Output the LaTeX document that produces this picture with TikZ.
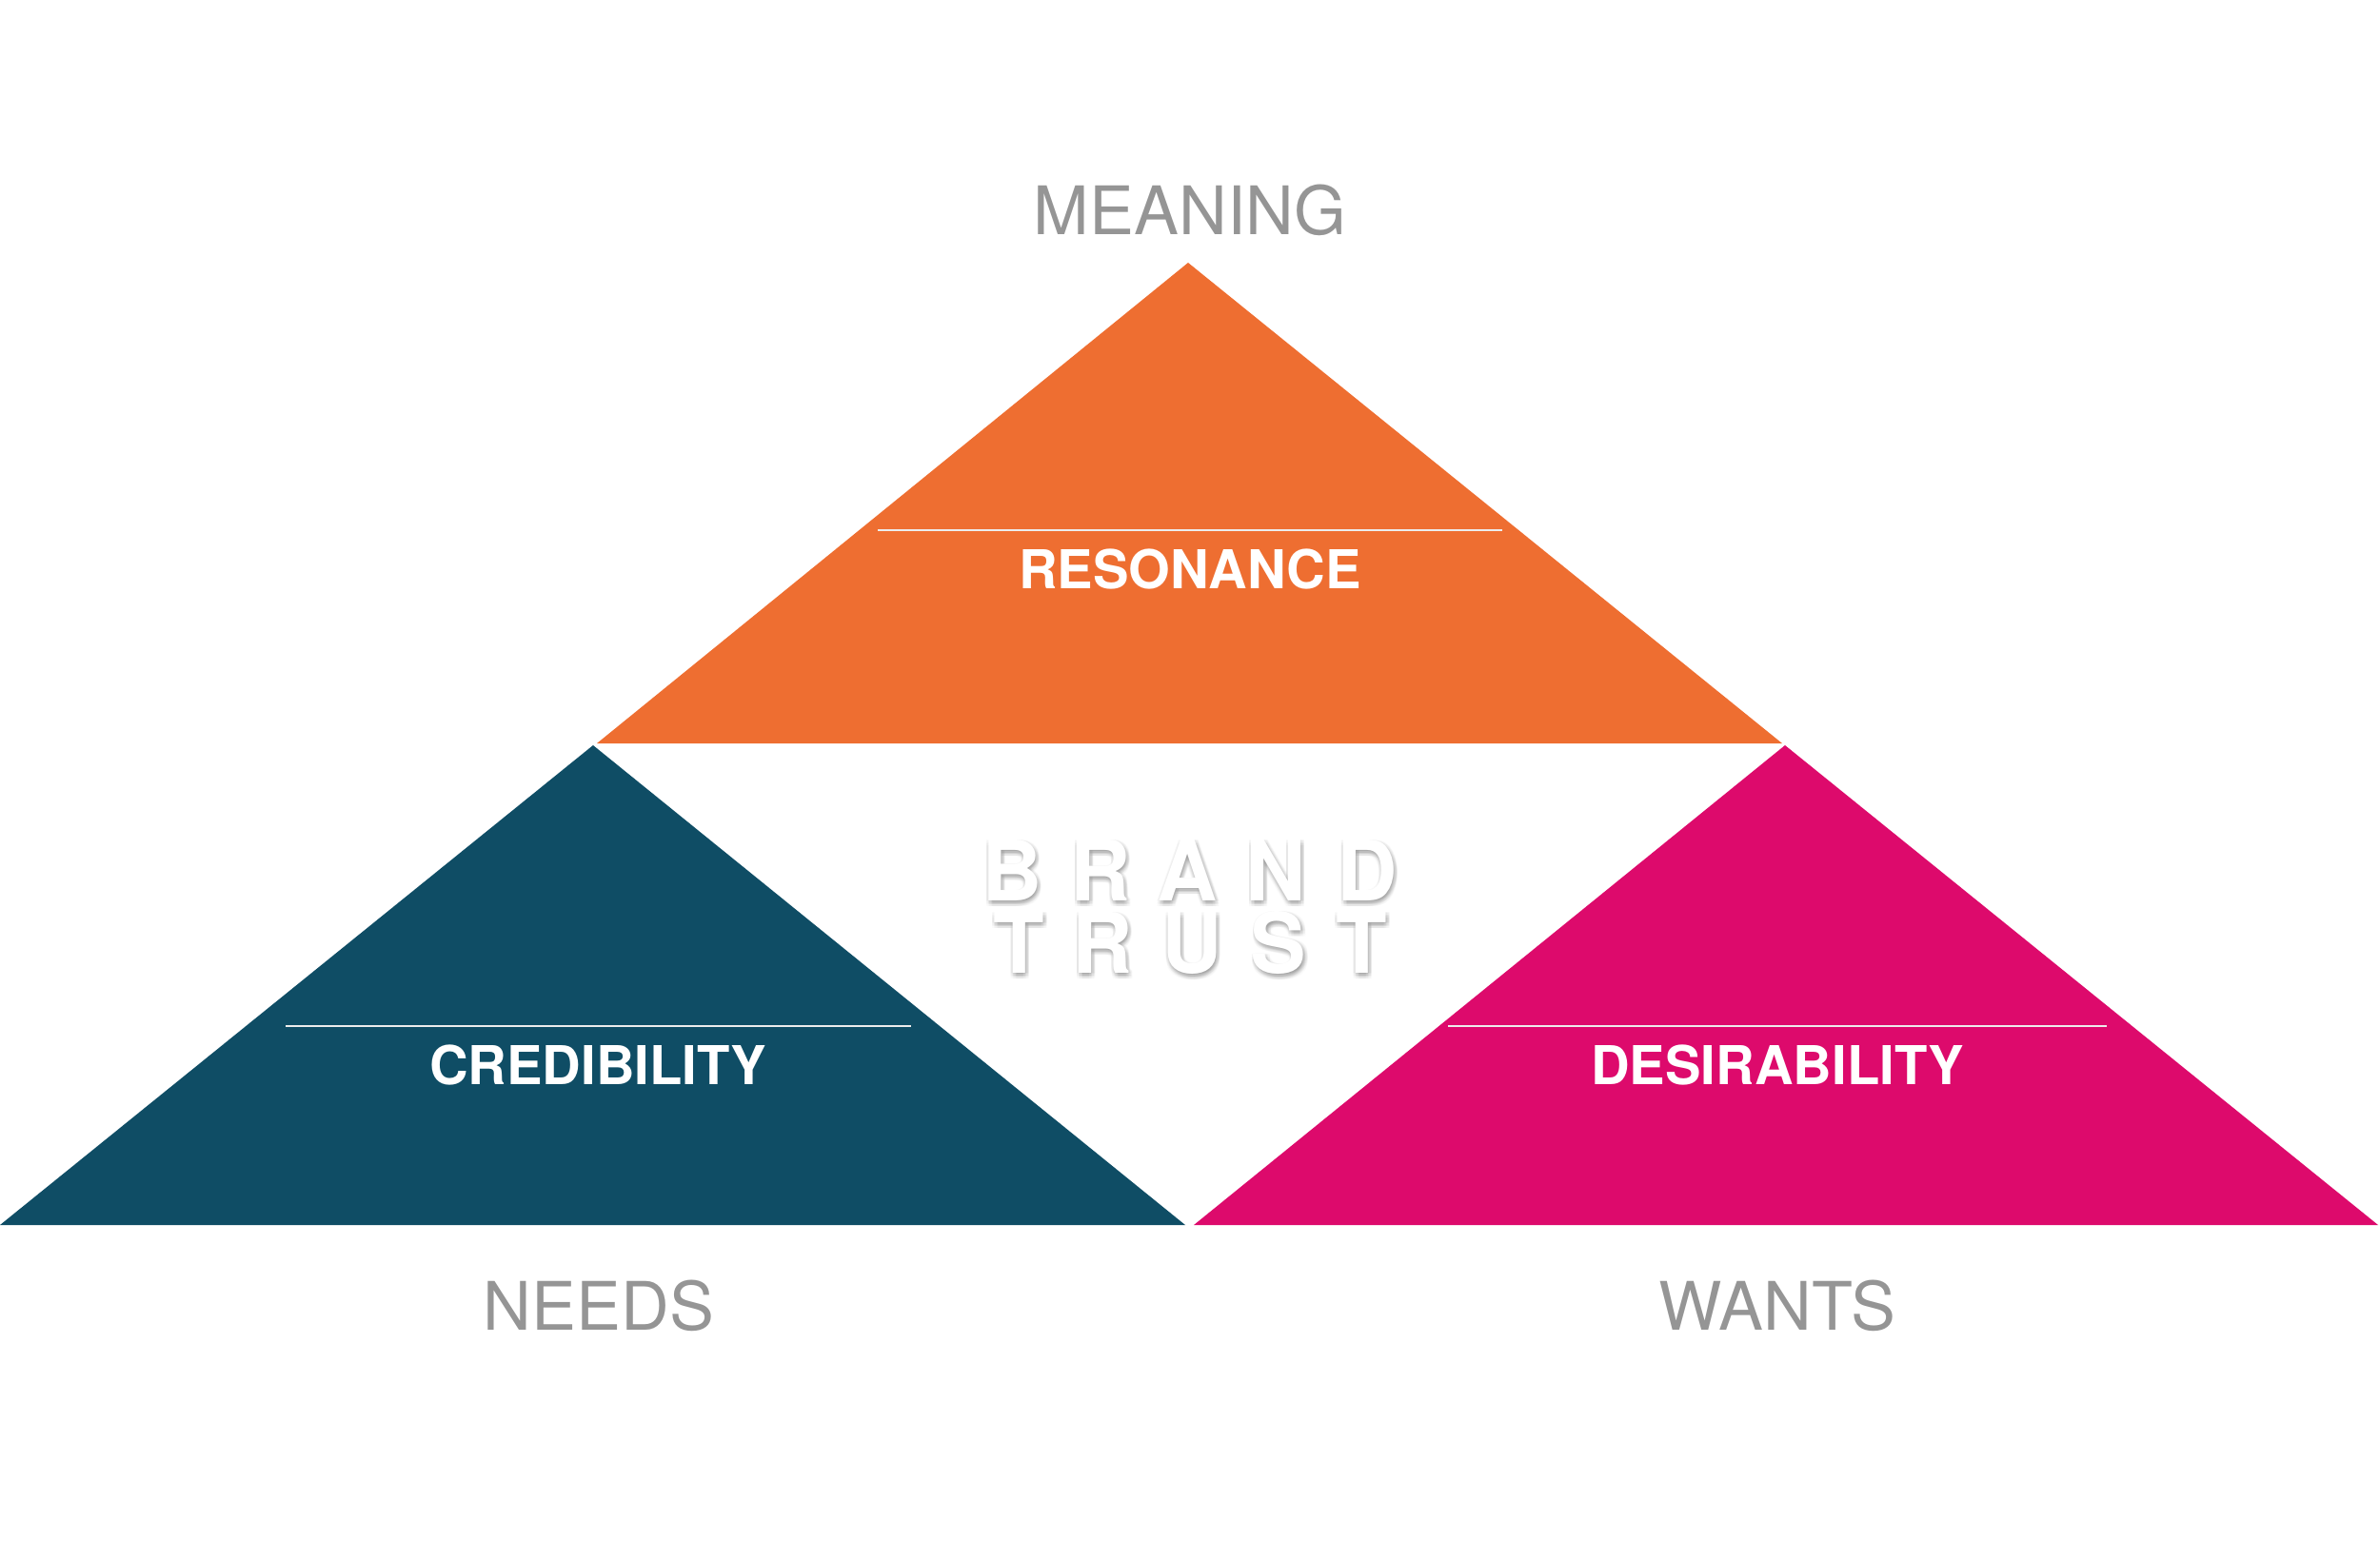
\documentclass[tikz,border=0pt]{standalone}
\usepackage{fontspec}
\setmainfont{TeX Gyre Heros}
\usepackage{xcolor}
\usetikzlibrary{positioning}

\definecolor{resorange}{HTML}{EE6E31}
\definecolor{credteal}{HTML}{0F4D65}
\definecolor{desirpink}{HTML}{DD0A6C}
\definecolor{axisgray}{HTML}{959595}

\begin{document}
\begin{tikzpicture}[
    axislabel/.style={text=axisgray, font=\fontsize{20}{24}\selectfont, anchor=base, inner sep=0pt},
    tierlabel/.style={text=white, font=\bfseries\fontsize{16}{19}\selectfont, anchor=base, inner sep=0pt},
    tierrule/.style={draw=white!85!gray, line width=0.6pt},
    letter/.style={text=white, font=\bfseries\fontsize{25}{30}\selectfont, anchor=base, inner sep=0pt},
    lettershade/.style={letter, text=black, text opacity=0.018}
]
    \useasboundingbox (0,0) rectangle (25,16.18);

    % Triangle corners
    \coordinate (topapex) at (12.48,13.42);
    \coordinate (topleft) at (6.27,8.37);
    \coordinate (topright) at (18.72,8.37);
    \coordinate (leftapex) at (6.23,8.35);
    \coordinate (leftleft) at (0,3.31);
    \coordinate (leftright) at (12.45,3.31);
    \coordinate (rightapex) at (18.75,8.35);
    \coordinate (rightleft) at (12.54,3.31);
    \coordinate (rightright) at (24.98,3.31);

    % Triangles
    \fill[resorange] (topleft) -- (topapex) -- (topright) -- cycle;
    \fill[credteal] (leftleft) -- (leftapex) -- (leftright) -- cycle;
    \fill[desirpink] (rightleft) -- (rightapex) -- (rightright) -- cycle;

    % Rules above the tier names
    \coordinate (resA) at (9.22,10.61);
    \coordinate (resB) at (15.78,10.61);
    \coordinate (credA) at (3.00,5.40);
    \coordinate (credB) at (9.57,5.40);
    \coordinate (desA) at (15.21,5.40);
    \coordinate (desB) at (22.13,5.40);
    \draw[tierrule] (resA) -- (resB);
    \draw[tierrule] (credA) -- (credB);
    \draw[tierrule] (desA) -- (desB);

    % Tier names
    \node[tierlabel] (resonance) at (12.50,10.00) {RESONANCE};
    \node[tierlabel] (credibility) at (6.28,4.79) {CREDIBILITY};
    \node[tierlabel] (desirability) at (18.67,4.79) {DESIRABILITY};

    % Axis words
    \node[axislabel] (meaning) at (12.50,13.71) {MEANING};
    \node[axislabel] (needs) at (6.29,2.21) {NEEDS};
    \node[axislabel] (wants) at (18.67,2.21) {WANTS};

    % Brand trust, letter by letter with a soft (blurred) shadow
    \foreach \ch/\x [count=\i] in {B/10.63, R/11.56, A/12.47, N/13.40, D/14.36} {
        \foreach \dx in {-0.015,0,...,0.046}
            \foreach \dy in {0,-0.015,...,-0.061}
                \node[lettershade] (brandsh\i-\dx-\dy) at (\x+\dx,6.72+\dy) {\ch};
        \node[letter] (brand\i) at (\x,6.72) {\ch};
    }
    \foreach \ch/\x [count=\i] in {T/10.70, R/11.58, U/12.52, S/13.43, T/14.30} {
        \foreach \dx in {-0.015,0,...,0.046}
            \foreach \dy in {0,-0.015,...,-0.061}
                \node[lettershade] (trustsh\i-\dx-\dy) at (\x+\dx,5.96+\dy) {\ch};
        \node[letter] (trust\i) at (\x,5.96) {\ch};
    }

\end{tikzpicture}
\end{document}
